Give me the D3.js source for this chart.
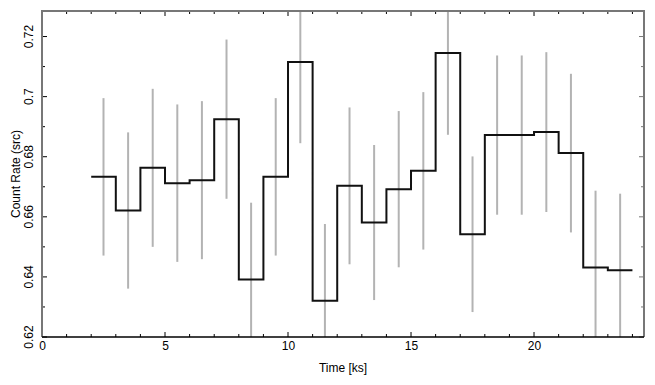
<!DOCTYPE html>
<html>
<head>
<meta charset="utf-8">
<script src="https://cdn.jsdelivr.net/npm/d3@7"></script>
<style>
  body { margin: 0; background: #fff; }
  text { font-family: "Liberation Sans", Arial, sans-serif; fill: #000; }
</style>
</head>
<body>
<svg id="chart"></svg>
<script>
const w = 655;
const h = 385;
const x0 = 42, x1 = 644, y0 = 11, y1 = 337;

// light curve bins (1 ks wide), start times, rates and 1-sigma errors
const binStart = [2, 3, 4, 5, 6, 7, 8, 9, 10, 11, 12, 13, 14, 15, 16, 17, 18, 19, 20, 21, 22, 23];
const rate = [0.6733, 0.6621, 0.6763, 0.6712, 0.6722, 0.6925, 0.6391, 0.6733, 0.7115, 0.6321, 0.6703,
  0.6581, 0.6692, 0.6753, 0.7145, 0.6542, 0.6872, 0.6872, 0.6882, 0.6812, 0.6431, 0.6422];
const rateErr = [0.0262, 0.026, 0.0263, 0.0262, 0.0263, 0.0265, 0.0256, 0.0262, 0.027, 0.0255, 0.0261,
  0.0258, 0.026, 0.0262, 0.0272, 0.0259, 0.0265, 0.0265, 0.0266, 0.0264, 0.0256, 0.0255];
const binWidth = 1;

const xTicks = [0, 5, 10, 15, 20];
const yTicks = [0.62, 0.64, 0.66, 0.68, 0.7, 0.72];

const svg = d3.select("#chart").attr("width", w).attr("height", h);

const xScale = d3.scaleLinear().domain([0, 24.47]).range([x0, x1]);
const yScale = d3.scaleLinear().domain([0.62, 0.7285]).range([y1, y0]);

svg.append("defs").append("clipPath").attr("id", "clip")
  .append("rect").attr("x", x0).attr("y", y0)
  .attr("width", x1 - x0).attr("height", y1 - y0);

const plot = svg.append("g").attr("clip-path", "url(#clip)");

// error bars
plot.selectAll("line.err")
  .data(binStart)
  .enter()
  .append("line")
  .attr("class", "err")
  .attr("x1", (d) => xScale(d + binWidth / 2))
  .attr("x2", (d) => xScale(d + binWidth / 2))
  .attr("y1", (d, i) => yScale(rate[i] - rateErr[i]))
  .attr("y2", (d, i) => yScale(rate[i] + rateErr[i]))
  .style("stroke", "#b3b3b3")
  .style("stroke-width", 2);

// histogram step line
const steps = [];
binStart.forEach((d, i) => {
  steps.push([d, rate[i]]);
  steps.push([d + binWidth, rate[i]]);
});
plot.append("path")
  .datum(steps)
  .attr("d", d3.line().x((d) => xScale(d[0])).y((d) => yScale(d[1])))
  .style("fill", "none")
  .style("stroke", "#111")
  .style("stroke-width", 2);

// axes with inward ticks
const xMinor = d3.range(0, 25, 1);
const yMinor = d3.range(0.62, 0.7285, 0.01);

const xBottom = svg.append("g").attr("transform", "translate(0," + y1 + ")")
  .call(d3.axisBottom(xScale).tickValues(xTicks).tickSize(0).tickPadding(4).tickFormat(d3.format("d")));
xBottom.select(".domain").remove();
xBottom.selectAll("text").style("font-size", "12px");

const yLeft = svg.append("g")
  .call(d3.axisLeft(yScale).tickValues(yTicks).tickSize(0).tickFormat((d) => String(+d.toFixed(2))));
yLeft.select(".domain").remove();
yLeft.selectAll(".tick").attr("transform", null);
yLeft.selectAll("text")
  .style("font-size", "12px")
  .attr("text-anchor", "middle")
  .attr("x", 0).attr("y", 0).attr("dy", "0")
  .attr("transform", (d) => "translate(" + (x0 - 9) + "," + yScale(d) + ") rotate(-90)");

const ticks = svg.append("g").style("stroke", "#000").style("stroke-width", 1);
xMinor.forEach((v) => {
  const len = v % 5 === 0 ? 5 : 3;
  ticks.append("line").attr("x1", xScale(v)).attr("x2", xScale(v))
    .attr("y1", y1).attr("y2", y1 - len);
  ticks.append("line").attr("x1", xScale(v)).attr("x2", xScale(v))
    .attr("y1", y0).attr("y2", y0 + len);
});
yMinor.forEach((v, i) => {
  const len = i % 2 === 0 ? 5 : 3;
  ticks.append("line").attr("y1", yScale(v)).attr("y2", yScale(v))
    .attr("x1", x0).attr("x2", x0 + len);
  ticks.append("line").attr("y1", yScale(v)).attr("y2", yScale(v))
    .attr("x1", x1).attr("x2", x1 - len).style("stroke", "#777");
});

// frame
const frame = svg.append("g").style("fill", "none");
frame.append("path")
  .attr("d", `M${x0},${y1}V${y0}H${x1}V${y1}`)
  .style("stroke", "#777").style("stroke-width", 2);
frame.append("line")
  .attr("x1", x0).attr("x2", x1).attr("y1", y1).attr("y2", y1)
  .style("stroke", "#000").style("stroke-width", 1.3);

// axis titles
svg.append("text")
  .attr("x", (x0 + x1) / 2)
  .attr("y", 372)
  .attr("text-anchor", "middle")
  .style("font-size", "12px")
  .text("Time [ks]");
svg.append("text")
  .attr("transform", "translate(16," + ((y0 + y1) / 2) + ") rotate(-90)")
  .attr("text-anchor", "middle")
  .attr("dy", "0.35em")
  .style("font-size", "12px")
  .text("Count Rate (src)");
</script>
</body>
</html>
